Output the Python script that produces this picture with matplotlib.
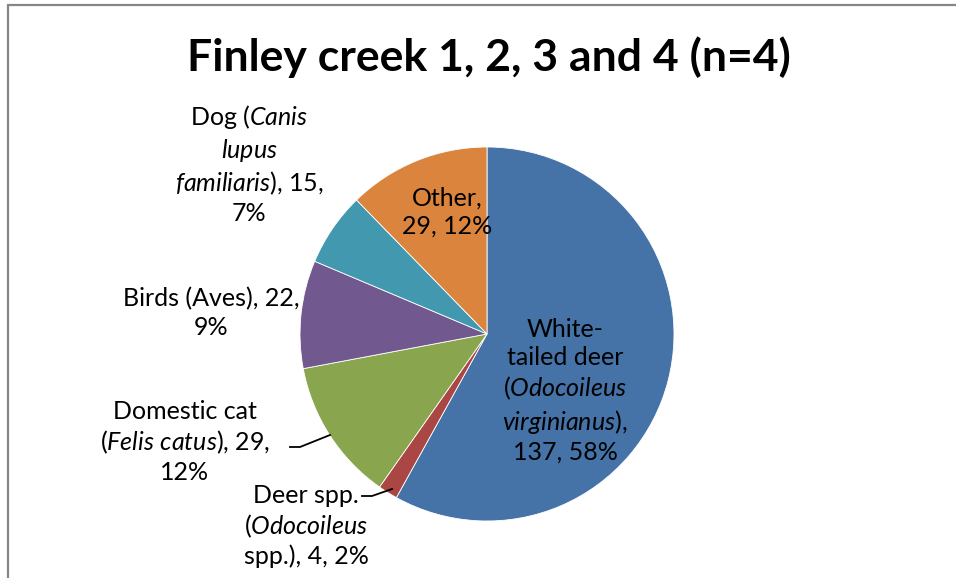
import matplotlib
matplotlib.use("Agg")
import matplotlib.pyplot as plt

plt.rcParams['font.family'] = ['Lato', 'DejaVu Sans']
plt.rcParams['mathtext.fontset'] = 'custom'
plt.rcParams['mathtext.rm'] = 'Lato'
plt.rcParams['mathtext.it'] = 'Lato:italic'

# counts per species, clockwise from 12 o'clock
species = ["White-tailed deer", "Deer spp.", "Domestic cat", "Birds", "Dog", "Other"]
counts = [137, 4, 29, 22, 15, 29]
pcts = [58, 2, 12, 9, 7, 12]
colors = ["#4572A7", "#AA4643", "#89A54E", "#71588F", "#4198AF", "#DB843D"]

W, H = 956, 578
fig = plt.figure(figsize=(W / 100, H / 100), dpi=100)
ax = fig.add_axes([0, 0, 1, 1])

cx, cy, r = 487, H - 334, 187
ax.pie(counts, colors=colors, startangle=90, counterclock=False,
       center=(cx, cy), radius=r, frame=True,
       wedgeprops=dict(edgecolor="white", linewidth=0.6))
ax.set_xlim(0, W)
ax.set_ylim(0, H)
ax.axis("off")

# label text, with the latin names in italics
labels = [
    "White-\ntailed deer\n($\\mathit{Odocoileus}$\n$\\mathit{virginianus}$),\n%d, %d%%",
    "Deer spp.\n($\\mathit{Odocoileus}$\nspp.), %d, %d%%",
    "Domestic cat\n($\\mathit{Felis\\ catus}$), %d,\n%d%%",
    "Birds (Aves), %d,\n%d%%",
    "Dog ($\\mathit{Canis}$\n$\\mathit{lupus}$\n$\\mathit{familiaris}$), %d,\n%d%%",
    "Other,\n%d, %d%%",
]
label_xy = [(565, 391), (306, 526), (185, 442), (211, 313), (249, 164), (447, 212)]

for lab, n, p, (x, y) in zip(labels, counts, pcts, label_xy):
    ax.text(x, H - y, lab % (n, p), ha="center", va="center",
            fontsize=18, linespacing=1.26, color="black")

# leader lines for the outside labels
ax.plot([362, 372, 392], [H - 496, H - 496, H - 489], color="black", lw=1.3)
ax.plot([290, 300, 330], [H - 447, H - 447, H - 435], color="black", lw=1.3)

fig.text(489 / W, 1 - 57 / H, "Finley creek 1, 2, 3 and 4 (n=4)",
         ha="center", va="center", fontsize=32, fontweight="bold")

# chart border
ax.plot([8, 8, W], [0, H - 5, H - 5], color="#868686", lw=1.6,
        solid_joinstyle="miter", clip_on=False)

fig.savefig("out.png", dpi=100)
